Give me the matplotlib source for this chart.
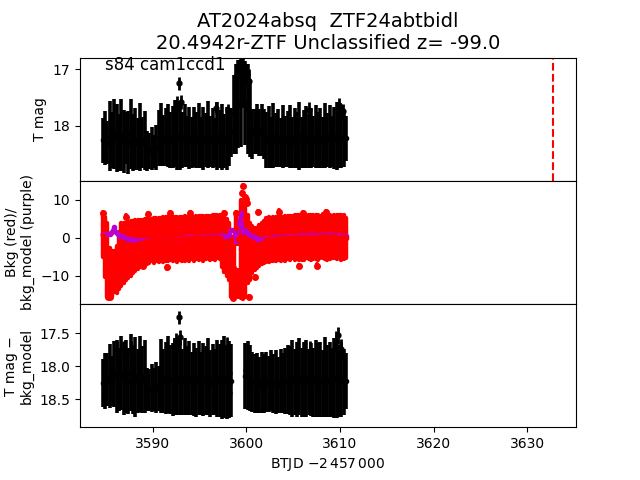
import numpy as np
import matplotlib
matplotlib.use("Agg")
import matplotlib.pyplot as plt

# time grid (BTJD - 2457000)
btjd = [3584.65, 3584.90, 3585.15, 3585.40, 3585.65, 3585.90, 3586.15, 3586.40, 3586.65, 3586.90,
        3587.15, 3587.40, 3587.65, 3587.90, 3588.15, 3588.40, 3588.65, 3588.90, 3589.15, 3589.40,
        3589.65, 3589.90, 3590.15, 3590.40, 3590.65, 3590.90, 3591.15, 3591.40, 3591.65, 3591.90,
        3592.15, 3592.40, 3592.65, 3592.90, 3593.15, 3593.40, 3593.65, 3593.90, 3594.15, 3594.40,
        3594.65, 3594.90, 3595.15, 3595.40, 3595.65, 3595.90, 3596.15, 3596.40, 3596.65, 3596.90,
        3597.15, 3597.40, 3597.65, 3597.90, 3598.15, 3598.40, 3598.65, 3598.90, 3599.15, 3599.40,
        3599.65, 3599.90, 3600.15, 3600.40, 3600.65, 3600.90, 3601.15, 3601.40, 3601.65, 3601.90,
        3602.15, 3602.40, 3602.65, 3602.90, 3603.15, 3603.40, 3603.65, 3603.90, 3604.15, 3604.40,
        3604.65, 3604.90, 3605.15, 3605.40, 3605.65, 3605.90, 3606.15, 3606.40, 3606.65, 3606.90,
        3607.15, 3607.40, 3607.65, 3607.90, 3608.15, 3608.40, 3608.65, 3608.90, 3609.15, 3609.40,
        3609.65, 3609.90, 3610.15, 3610.40, 3610.65]

# top panel: T mag
tmag = [18.26, 18.22, 18.30, 18.18, 18.25, 18.15, 18.22, 18.30, 18.16, 18.28,
        18.22, 18.30, 18.15, 18.30, 18.24, 18.32, 18.20, 18.30, 18.26, 18.45,
        18.45, 18.40, 18.46, 18.38, 18.22, 18.16, 18.26, 18.20, 18.18, 18.26,
        18.20, 18.14, 18.22, 18.20, 18.26, 18.18, 18.28, 18.22, 18.30, 18.20,
        18.26, 18.18, 18.30, 18.22, 18.26, 18.16, 18.28, 18.22, 18.30, 18.18,
        18.24, 18.20, 18.28, 18.22, 18.20, 18.12, 17.80, 17.70, 17.62, 17.60,
        17.25, 17.60, 17.70, 17.88, 18.15, 18.10, 18.06, 18.12, 18.08, 18.15,
        18.25, 18.20, 18.30, 18.18, 18.26, 18.22, 18.30, 18.20, 18.28, 18.24,
        18.20, 18.30, 18.22, 18.26, 18.18, 18.30, 18.24, 18.20, 18.28, 18.22,
        18.28, 18.20, 18.26, 18.22, 18.30, 18.18, 18.26, 18.20, 18.28, 18.22,
        18.18, 18.26, 18.20, 18.24, 18.22]
tmag_err = [0.40, 0.48, 0.38, 0.62, 0.50, 0.62, 0.60, 0.50, 0.64, 0.56,
            0.46, 0.56, 0.62, 0.50, 0.55, 0.46, 0.60, 0.46, 0.52, 0.36,
            0.32, 0.38, 0.30, 0.40, 0.50, 0.56, 0.45, 0.52, 0.56, 0.50,
            0.55, 0.60, 0.56, 0.58, 0.50, 0.56, 0.46, 0.55, 0.45, 0.54,
            0.50, 0.58, 0.45, 0.56, 0.48, 0.60, 0.46, 0.54, 0.44, 0.60,
            0.52, 0.58, 0.48, 0.56, 0.52, 0.43, 0.70, 0.80, 0.78, 0.78,
            0.43, 0.75, 0.80, 0.68, 0.45, 0.40, 0.45, 0.42, 0.46, 0.45,
            0.50, 0.55, 0.45, 0.58, 0.48, 0.52, 0.44, 0.56, 0.46, 0.50,
            0.56, 0.46, 0.54, 0.50, 0.60, 0.45, 0.52, 0.55, 0.48, 0.54,
            0.46, 0.56, 0.50, 0.54, 0.45, 0.58, 0.48, 0.56, 0.46, 0.55,
            0.60, 0.50, 0.55, 0.50, 0.40]
# extra points (bright ones sticking out of the band)
btjd_x = [3592.80, 3592.55, 3593.00, 3592.35, 3606.70, 3609.85, 3610.30, 3596.80, 3598.00,
          3599.00, 3599.25, 3599.55, 3599.80, 3600.05, 3600.25]
tmag_x = [17.25, 17.62, 17.58, 17.70, 17.72, 17.64, 17.74, 17.68, 17.72,
          17.10, 17.00, 16.98, 17.02, 17.08, 17.20]
tmag_x_err = [0.12, 0.14, 0.12, 0.12, 0.14, 0.14, 0.12, 0.10, 0.10,
              0.20, 0.16, 0.15, 0.16, 0.18, 0.20]

# middle panel: background flux (red) and background model (purple)
bkg = [0.8, -2.4, -5.8, -9.1, -9.5, -8.9, -8.4, -6.0, -4.4, -4.0,
       -3.5, -3.2, -2.8, -2.4, -2.0, -1.75, -1.45, -1.25, -1.05, -0.9,
       -0.8, -0.6, -0.7, -0.5, -0.6, -0.4, -0.5, -0.3, -0.4, -0.2,
       -0.3, -0.2, -0.4, -0.1, -0.3, -0.2, -0.1, -0.3, 0.0, -0.2,
       0.1, 0.0, 0.2, -0.1, 0.1, 0.2, 0.0, 0.2, 0.1, 0.3,
       0.2, -0.9, -1.7, -2.5, -3.55, -7.5, -7.95, 2.5, -0.25, -2.95,
       -4.0, -3.75, -3.0, -3.5, -3.15, -3.0, -2.75, -2.0, -1.5, -1.05,
       -0.6, -0.4, -0.5, -0.2, -0.3, -0.1, -0.2, 0.0, -0.1, 0.1,
       0.0, 0.2, 0.1, 0.3, 0.1, 0.2, 0.0, 0.3, 0.2, 0.1,
       0.2, 0.3, 0.1, 0.2, 0.4, 0.2, 0.1, 0.3, 0.2, 0.4,
       0.2, 0.3, 0.1, 0.2, 0.0]
bkg_err = [5.8, 7.9, 9.8, 6.5, 6.0, 5.4, 6.2, 7.5, 8.3, 8.0,
           7.5, 7.4, 7.3, 6.9, 6.7, 6.45, 6.25, 6.05, 5.95, 5.9,
           5.8, 5.6, 5.9, 5.7, 5.8, 5.6, 5.9, 5.7, 5.8, 5.6,
           5.8, 5.7, 5.9, 5.6, 5.8, 5.9, 5.7, 5.8, 5.6, 5.8,
           5.7, 5.8, 5.6, 5.9, 5.7, 5.6, 5.8, 5.7, 5.9, 5.6,
           5.8, 6.7, 7.3, 7.5, 7.45, 8.0, 7.95, 4.0, 1.25, 12.95,
           12.0, 11.75, 9.0, 7.5, 6.15, 5.5, 5.25, 5.5, 5.5, 5.55,
           5.8, 5.9, 5.6, 5.8, 5.9, 5.7, 5.8, 5.6, 5.9, 5.7,
           5.8, 5.6, 5.9, 5.7, 5.8, 5.9, 5.7, 5.6, 5.8, 5.9,
           5.7, 5.8, 5.9, 5.6, 5.8, 5.7, 5.9, 5.8, 5.6, 5.7,
           5.8, 5.6, 5.9, 5.7, 5.2]
btjd_bx = [3599.67, 3599.50, 3599.85, 3599.95, 3599.55, 3598.90, 3600.05, 3598.90, 3599.15,
           3585.20, 3585.45, 3598.60, 3600.30, 3584.70, 3589.50, 3591.80, 3594.00, 3597.60,
           3601.20, 3603.50, 3606.00, 3608.50, 3589.00, 3591.50, 3600.90, 3605.60, 3607.50, 3587.10]
bkg_x = [13.7, 11.8, 10.8, 10.2, 8.8, 6.6, 9.2, -12.5, -12.0,
         -15.5, -15.6, -15.8, -15.5, 6.6, 6.2, 6.5, 6.6, 6.6,
         6.8, 6.9, 6.6, 6.8, -7.5, -7.8, -10.3, -7.5, -7.3, 5.6]
bkg_x_err = [0.3, 0.3, 0.3, 0.3, 0.3, 0.3, 0.3, 3.0, 3.5,
             0.3, 0.3, 0.3, 0.3, 0.3, 0.3, 0.3, 0.3, 0.3,
             0.3, 0.3, 0.3, 0.3, 0.3, 0.3, 0.3, 0.3, 0.3, 0.3]
bkg_model = [1.0, 1.0, 1.0, 1.1, 1.6, 2.8, 1.4, 0.6, 0.4, 0.2,
             0.0, -0.2, -0.3, -0.5, -0.6, -0.8, -0.7, -0.9, -0.8, -0.7,
             -0.8, -0.6, -0.7, -0.5, -0.6, -0.4, -0.5, -0.3, -0.4, -0.3,
             -0.2, -0.3, -0.1, -0.2, 0.0, -0.1, 0.1, 0.0, 0.2, 0.0,
             0.1, 0.3, 0.2, 0.4, 0.2, 0.5, 0.3, 0.5, 0.4, 0.6,
             0.5, 0.7, 0.5, 0.6, 0.8, 2.1, 2.0, -0.9, 2.5, 6.5,
             1.5, 2.0, 1.3, 0.8, 0.4, 0.1, -0.2, -0.4, -0.5, -0.3,
             -0.4, -0.2, -0.1, 0.1, 0.0, 0.2, 0.1, 0.3, 0.2, 0.4,
             0.3, 0.5, 0.4, 0.6, 0.5, 0.7, 0.5, 0.6, 0.8, 0.6,
             0.7, 0.5, 0.6, 0.8, 0.6, 0.7, 0.5, 0.7, 0.6, 0.8,
             0.6, 0.7, 0.5, 0.6, 0.5]

# bottom panel: T mag - bkg_model (nan = removed points)
nan = np.nan
submag = [18.25, 18.22, 18.20, 18.15, 18.22, 18.12, 18.15, 18.20, 18.10, 18.18,
          18.15, 18.22, 18.10, 18.20, 18.16, 18.22, 18.12, 18.20, 18.15, 18.35,
          18.36, 18.33, 18.35, 18.32, 18.34, 18.15, 18.22, 18.18, 18.12, 18.20,
          18.20, 18.15, 18.22, 18.18, 18.24, 18.16, 18.22, 18.18, 18.26, 18.20,
          18.24, 18.18, 18.26, 18.20, 18.22, 18.16, 18.26, 18.20, 18.24, 18.18,
          18.22, 18.20, 18.16, 18.24, 18.20, 18.22, nan, nan, nan, nan,
          nan, 18.15, 18.14, 18.18, 18.24, 18.26, 18.25, 18.28, 18.24, 18.26,
          18.24, 18.27, 18.22, 18.26, 18.24, 18.28, 18.22, 18.25, 18.22, 18.20,
          18.22, 18.18, 18.24, 18.20, 18.16, 18.24, 18.20, 18.18, 18.24, 18.20,
          18.24, 18.18, 18.22, 18.20, 18.26, 18.16, 18.22, 18.20, 18.24, 18.18,
          18.16, 18.22, 18.20, 18.24, 18.22]
submag_err = [0.36, 0.42, 0.40, 0.48, 0.38, 0.50, 0.55, 0.48, 0.56, 0.55,
              0.55, 0.50, 0.58, 0.52, 0.60, 0.48, 0.57, 0.50, 0.55, 0.33,
              0.32, 0.36, 0.33, 0.38, 0.34, 0.56, 0.48, 0.54, 0.58, 0.52,
              0.55, 0.58, 0.52, 0.56, 0.50, 0.58, 0.52, 0.56, 0.48, 0.55,
              0.52, 0.56, 0.48, 0.55, 0.52, 0.58, 0.50, 0.54, 0.50, 0.58,
              0.55, 0.60, 0.62, 0.55, 0.58, 0.55, nan, nan, nan, nan,
              nan, 0.50, 0.52, 0.50, 0.45, 0.44, 0.45, 0.42, 0.46, 0.44,
              0.45, 0.42, 0.46, 0.44, 0.48, 0.42, 0.48, 0.45, 0.50, 0.52,
              0.52, 0.58, 0.50, 0.56, 0.58, 0.52, 0.56, 0.58, 0.50, 0.55,
              0.52, 0.58, 0.54, 0.56, 0.50, 0.60, 0.54, 0.56, 0.52, 0.60,
              0.62, 0.54, 0.56, 0.50, 0.42]
btjd_sx = [3592.85, 3592.90, 3592.50, 3592.70, 3592.30, 3586.20, 3586.90, 3587.70, 3597.90,
           3598.10, 3598.15, 3598.20, 3600.00, 3606.80, 3607.70, 3609.60, 3609.80, 3610.10]
submag_x = [17.26, 17.56, 17.62, 17.66, 17.70, 17.77, 17.77, 17.77, 17.71,
            18.10, 18.25, 18.40, 18.06, 17.77, 17.78, 17.62, 17.53, 17.74]
submag_x_err = [0.10, 0.10, 0.12, 0.12, 0.12, 0.15, 0.15, 0.15, 0.15,
                0.15, 0.15, 0.15, 0.15, 0.15, 0.15, 0.15, 0.12, 0.15]

t_ztf = 3632.75  # ZTF detection time

fig, axs = plt.subplots(3, 1, sharex=True, figsize=(6.4, 4.8), dpi=100)
plt.subplots_adjust(hspace=0)

ax = axs[0]
ax.errorbar(btjd, tmag, yerr=tmag_err, fmt='ko', ms=3, elinewidth=2.6)
ax.errorbar(btjd_x, tmag_x, yerr=tmag_x_err, fmt='ko', ms=3.5, elinewidth=2)
ax.axvline(t_ztf, color='r', ls='--')
ax.set_ylim(18.98, 16.79)
ax.set_ylabel('T mag')
ax.text(0.05, 0.9, 's84 cam1ccd1', transform=ax.transAxes, fontsize=12)
ax.set_title('AT2024absq  ZTF24abtbidl\n20.4942r-ZTF Unclassified z= -99.0', fontsize=14)

ax = axs[1]
eb = ax.errorbar(btjd, bkg, yerr=bkg_err, fmt='ro', ms=3, elinewidth=3.2)
eb[2][0].set_capstyle('round')
eb = ax.errorbar(btjd_bx, bkg_x, yerr=bkg_x_err, fmt='ro', ms=4, elinewidth=3)
eb[2][0].set_capstyle('round')
ax.plot(btjd, bkg_model, '.-', color='#bb00cc', ms=6, lw=2.5)
ax.set_ylim(-17.4, 15)
ax.set_ylabel('Bkg (red)/\nbkg_model (purple)')

ax = axs[2]
ax.errorbar(btjd, submag, yerr=submag_err, fmt='ko', ms=3, elinewidth=2.6)
ax.errorbar(btjd_sx, submag_x, yerr=submag_x_err, fmt='ko', ms=3.5, elinewidth=2)
ax.set_ylim(18.92, 17.06)
ax.set_ylabel('T mag \u2212\nbkg_model')
ax.set_xlabel(r'BTJD $-2\,457\,000$')
ax.set_xlim(3582.24, 3635.2)

plt.savefig('out.png')
